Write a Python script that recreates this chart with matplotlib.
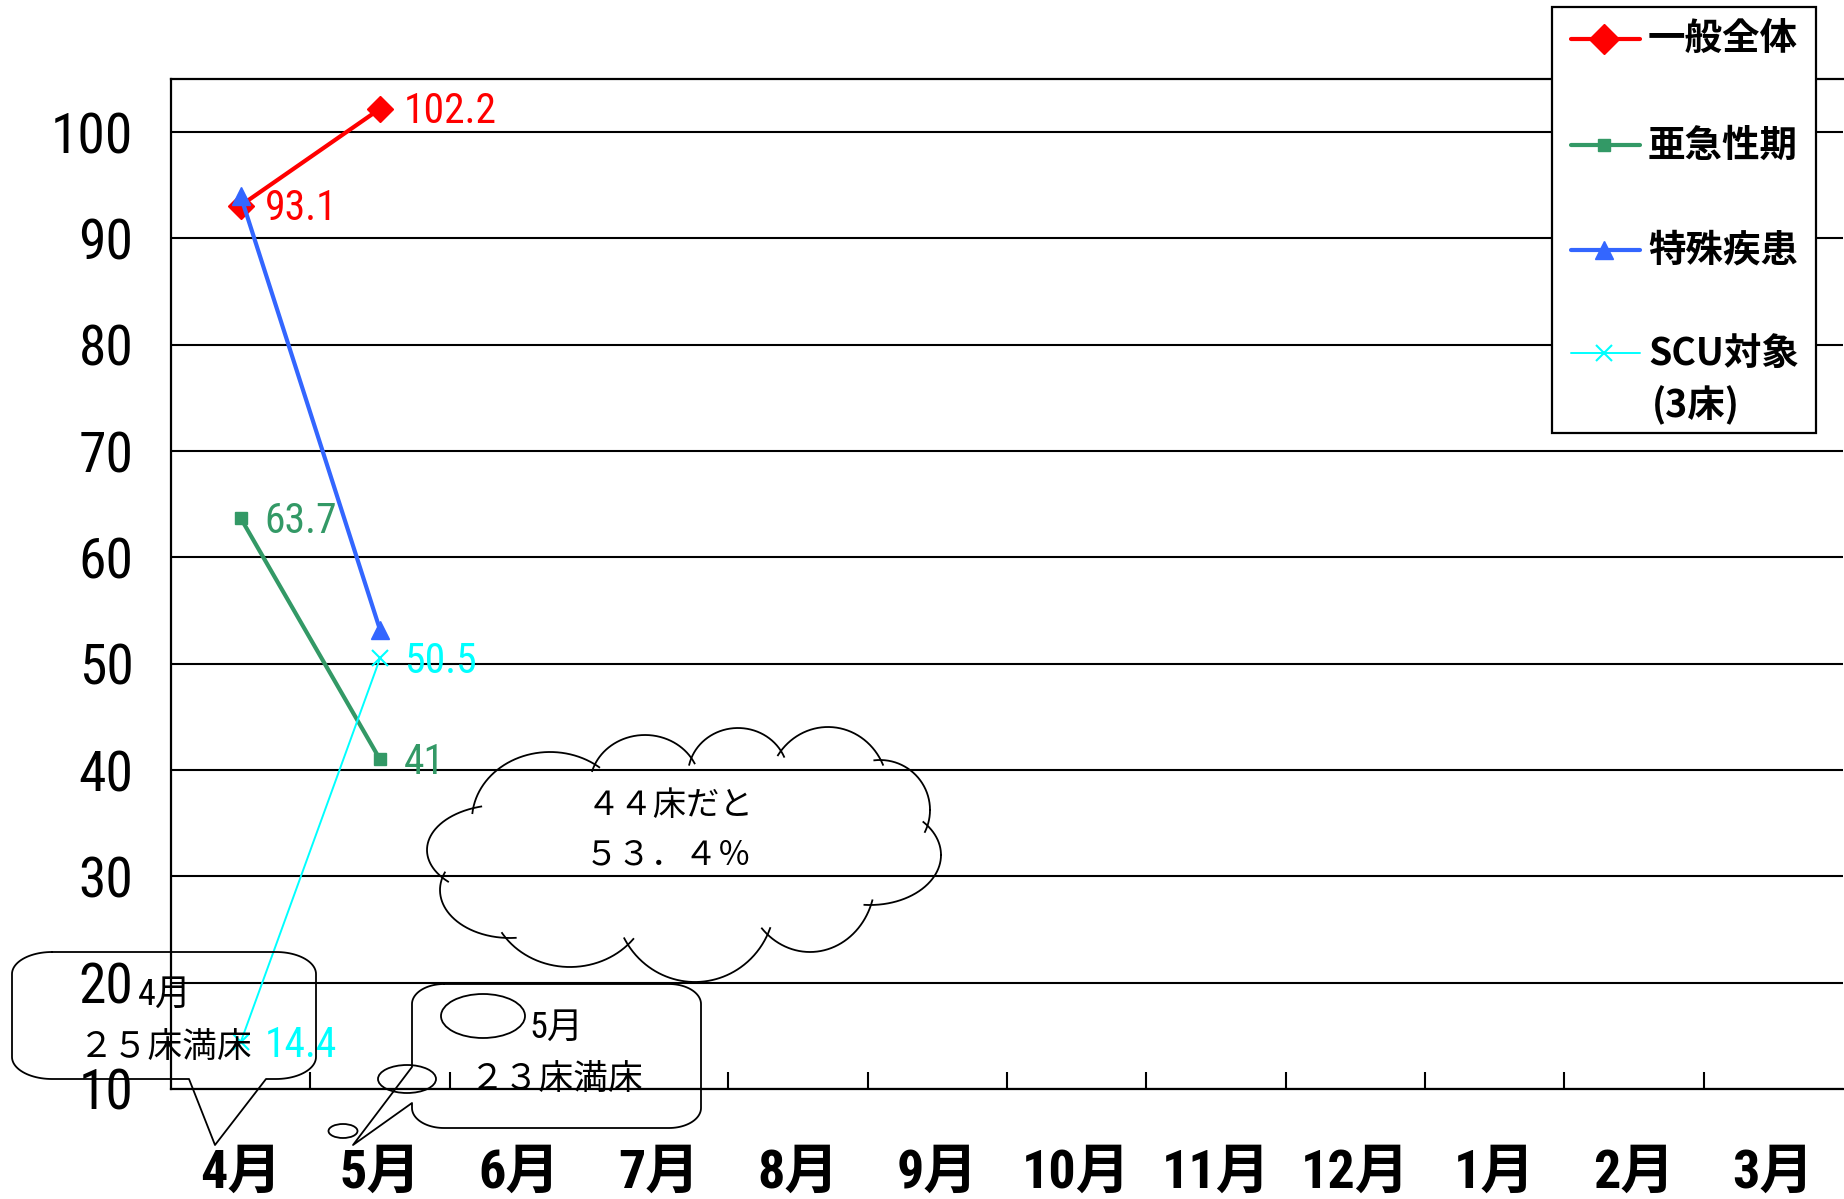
import numpy as np
import matplotlib
matplotlib.use("Agg")
import matplotlib.pyplot as plt
from matplotlib import font_manager as fm
from matplotlib.patches import Ellipse, Rectangle

# ---------------- data ----------------
months = ['4月', '5月', '6月', '7月', '8月', '9月', '10月', '11月', '12月', '1月', '2月', '3月']
series_names = ['一般全体', '亜急性期', '特殊疾患', 'SCU対象']
ippan = [93.1, 102.2]      # 一般全体
akyusei = [63.7, 41.0]     # 亜急性期
tokushu = [94.0, 53.2]     # 特殊疾患
scu = [14.4, 50.5]         # SCU対象(3床)
yticks = [10, 20, 30, 40, 50, 60, 70, 80, 90, 100]

# ---------------- styles ----------------
colors = ['#FF0000', '#339966', '#3366FF', '#00FFFF']
markers = ['D', 's', '^', 'x']
msizes = [13, 9, 13, 11]
lwidths = [3, 3, 3, 1.4]
show_lab = [True, True, False, True]

names = {f.name for f in fm.fontManager.ttflist}
NARROW = next((n for n in ['Roboto Condensed', 'Archivo Narrow', 'PT Sans Narrow', 'Liberation Sans']
               if n in names), 'DejaVu Sans')
CJK = 'Noto Sans CJK JP'
MIX = [NARROW, CJK]

W, H = 1844, 1199
PX = 0.72  # points per pixel at dpi 100
fig = plt.figure(figsize=(W / 100, H / 100), dpi=100)
fig.patch.set_facecolor('white')

x0, x1, ytop, ybot = 171, 1843, 79, 1089
ax = fig.add_axes([x0 / W, (H - ybot) / H, (x1 - x0) / W, (ybot - ytop) / H])
ax.set_xlim(-0.5, 11.5)
ax.set_ylim(10, 105)

for sp in ['left', 'bottom', 'top']:
    ax.spines[sp].set_linewidth(1.6)
    ax.spines[sp].set_color('black')
ax.spines['right'].set_visible(False)

ax.set_yticks(yticks)
ax.set_yticklabels([str(v) for v in yticks], family=MIX, fontsize=40)
ax.tick_params(axis='y', length=0, pad=27)
ax.yaxis.grid(True, color='black', linewidth=1.5, zorder=0)
ax.set_axisbelow(True)

ax.set_xticks(range(len(months)))
ax.set_xticklabels(months, family=MIX, fontsize=39, fontweight='bold')
ax.tick_params(axis='x', which='major', length=0, pad=42)
ax.set_xticks(np.arange(0.5, len(months) - 1, 1.0), minor=True)
ax.tick_params(axis='x', which='minor', direction='in', length=17 * PX, width=1.5, color='black')

series = [ippan, akyusei, tokushu, scu]
for vals, c, m, ms, lw, lab in zip(series, colors, markers, msizes, lwidths, show_lab):
    xs = np.arange(len(vals))
    mew = 1.5 if m == 'x' else 1
    ax.plot(xs, vals, color=c, lw=lw, marker=m, ms=ms, mec=c, mfc=c, mew=mew, zorder=3,
            clip_on=False)
    if lab:
        for xv, v in zip(xs, vals):
            ax.annotate(f"{v:g}", (xv, v), xytext=(24 * PX, -3 * PX), textcoords='offset points',
                        ha='left', va='center', color=c, fontsize=30, family=MIX, zorder=4)

# ---------------- overlay (pixel coords) for legend & annotations ----------------
ov = fig.add_axes([0, 0, 1, 1], zorder=5)
ov.set_xlim(0, W)
ov.set_ylim(H, 0)
ov.axis('off')
ov.patch.set_visible(False)

# legend
ov.add_patch(Rectangle((1552, 7), 1816 - 1552, 433 - 7, facecolor='white', edgecolor='black',
                       linewidth=1.6, zorder=1))
leg_y = [39, 145, 250, 353]
for name, c, m, ms, lw, y in zip(series_names, colors, markers, msizes, lwidths, leg_y):
    ov.plot([1571, 1640], [y, y], color=c, lw=lw, zorder=2, solid_capstyle='round')
    mew = 1.5 if m == 'x' else 1
    ov.plot([1604], [y], marker=m, ms=ms + (2 if m == 'D' else 0), color=c, mec=c, mfc=c,
            mew=mew, zorder=3)
    ov.text(1648, y, name, ha='left', va='center', fontsize=27, family=[CJK], fontweight='bold',
            zorder=4)
ov.text(1652, 405, '(3床)', ha='left', va='center', fontsize=27, family=[CJK], fontweight='bold', zorder=4)


def rounded_callout(bx0, by0, bx1, by1, rx, ry, edge, pa, pb, tip, n=24):
    """Rounded box outline (screen coords, y down) with a wedge pointer on one edge."""
    pts = []

    def arc(cx, cy, a0, a1):
        a = np.radians(np.linspace(a0, a1, n))
        return list(zip(cx + rx * np.cos(a), cy + ry * np.sin(a)))

    pts += [(bx0 + rx, by0), (bx1 - rx, by0)]
    pts += arc(bx1 - rx, by0 + ry, -90, 0)
    pts += [(bx1, by1 - ry)]
    pts += arc(bx1 - rx, by1 - ry, 0, 90)
    if edge == 'bottom':
        pts += [(pb, by1), tip, (pa, by1)]
    pts += [(bx0 + rx, by1)]
    pts += arc(bx0 + rx, by1 - ry, 90, 180)
    if edge == 'left':
        pts += [(bx0, pb), tip, (bx0, pa)]
    pts += [(bx0, by0 + ry)]
    pts += arc(bx0 + rx, by0 + ry, 180, 270)
    pts = np.array(pts)
    ov.plot(pts[:, 0], pts[:, 1], color='black', lw=1.3, zorder=2)


# callout 1 : 4月 25床満床
rounded_callout(12, 952, 316, 1079, 40, 22, 'bottom', 189, 266, (215, 1145))
ov.text(165, 995, '4月', ha='center', va='center', fontsize=26, family=MIX, zorder=4)
ov.text(166, 1047, '２５床満床', ha='center', va='center', fontsize=25, family=[CJK], zorder=4)

# callout 2 : 5月 23床満床 (with thought-bubble ellipses)
rounded_callout(412, 984, 701, 1128, 32, 20, 'left', 1067, 1103, (353, 1145))
for (cx, cy, ew, eh) in [(483, 1016, 84, 44), (407, 1079, 58, 28), (343, 1131, 29, 14)]:
    ov.add_patch(Ellipse((cx, cy), ew, eh, fill=False, edgecolor='black', lw=1.3, zorder=2))
ov.text(556, 1028, '5月', ha='center', va='center', fontsize=26, family=MIX, zorder=4)
ov.text(557, 1080, '２３床満床', ha='center', va='center', fontsize=25, family=[CJK], zorder=4)

# cloud : 44床だと 53.4%
cloud = [(550, 820, 78, 68), (645, 785, 55, 50), (738, 775, 50, 47), (828, 790, 60, 63),
         (880, 810, 50, 50), (870, 855, 71, 50), (810, 880, 65, 72), (695, 900, 80, 82),
         (570, 895, 80, 72), (510, 890, 70, 48), (500, 850, 73, 45), (690, 840, 170, 70)]
t = np.linspace(0, 2 * np.pi, 900)
for i, (cx, cy, rx, ry) in enumerate(cloud):
    xs = cx + rx * np.cos(t)
    ys = cy + ry * np.sin(t)
    hidden = np.zeros_like(t, dtype=bool)
    for j, (cx2, cy2, rx2, ry2) in enumerate(cloud):
        if j == i:
            continue
        hidden |= ((xs - cx2) / rx2) ** 2 + ((ys - cy2) / ry2) ** 2 < 0.9 ** 2
    xs = np.where(hidden, np.nan, xs)
    ov.plot(xs, ys, color='black', lw=1.3, zorder=2)
ov.text(670, 806, '４４床だと', ha='center', va='center', fontsize=24, family=[CJK], zorder=4)
ov.text(668, 855, '５３．４％', ha='center', va='center', fontsize=24, family=[CJK], zorder=4)

fig.savefig('out.png', dpi=100, facecolor='white')
